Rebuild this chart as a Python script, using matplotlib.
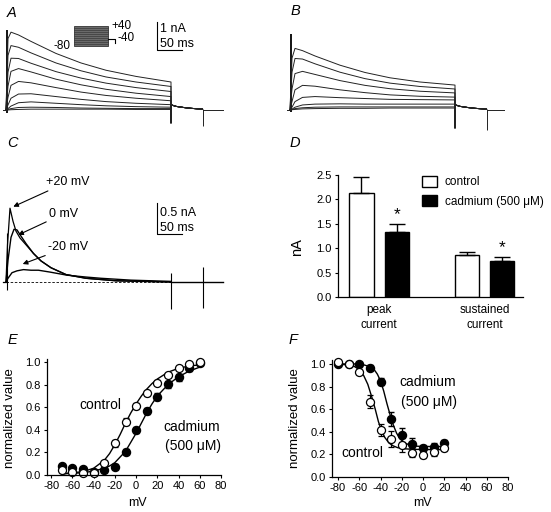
import matplotlib
matplotlib.use('Agg')
import matplotlib.pyplot as plt
from matplotlib.patches import Rectangle, Patch
from matplotlib.ticker import FormatStrFormatter
import numpy as np

plt.rcParams['font.family'] = ['Liberation Sans', 'DejaVu Sans']
plt.rcParams['axes.unicode_minus'] = False

W, H = 551, 512

# ---- A / B: current families (time in ms, current in nA) ----
step_t = [0, 4, 10, 25, 50, 100, 150, 200, 260, 330]
traces_a = [
    [0, 2.55, 2.78, 2.68, 2.45, 2.02, 1.68, 1.42, 1.20, 1.00],
    [0, 1.95, 2.30, 2.24, 2.04, 1.68, 1.40, 1.18, 1.00, 0.84],
    [0, 1.35, 1.85, 1.84, 1.67, 1.37, 1.14, 0.96, 0.80, 0.66],
    [0, 0.85, 1.38, 1.48, 1.36, 1.10, 0.90, 0.74, 0.60, 0.48],
    [0, 0.45, 0.88, 1.02, 0.97, 0.80, 0.64, 0.52, 0.42, 0.33],
    [0, 0.18, 0.42, 0.57, 0.58, 0.48, 0.38, 0.30, 0.24, 0.19],
    [0, 0.05, 0.14, 0.26, 0.29, 0.24, 0.19, 0.15, 0.12, 0.10],
    [0, 0.02, 0.05, 0.09, 0.10, 0.09, 0.07, 0.06, 0.05, 0.05],
    [0, 0.00, 0.01, 0.02, 0.03, 0.03, 0.03, 0.03, 0.02, 0.02],
]
traces_b = [
    [0, 1.85, 2.20, 2.12, 1.93, 1.60, 1.34, 1.15, 1.00, 0.89],
    [0, 1.35, 1.84, 1.82, 1.65, 1.35, 1.12, 0.96, 0.84, 0.75],
    [0, 0.75, 1.30, 1.38, 1.27, 1.05, 0.88, 0.76, 0.67, 0.61],
    [0, 0.30, 0.72, 0.88, 0.85, 0.72, 0.62, 0.54, 0.49, 0.46],
    [0, 0.10, 0.30, 0.45, 0.48, 0.44, 0.41, 0.38, 0.37, 0.36],
    [0, 0.03, 0.10, 0.18, 0.21, 0.22, 0.21, 0.21, 0.21, 0.21],
    [0, 0.02, 0.05, 0.08, 0.10, 0.11, 0.11, 0.11, 0.11, 0.11],
    [0, 0.01, 0.02, 0.04, 0.05, 0.06, 0.06, 0.07, 0.07, 0.07],
]
tail_t = [331, 340, 355, 370, 385, 393]
tail_i = [0.18, 0.13, 0.09, 0.06, 0.04, 0.03]
spikes_a = {'on': (2.85, -0.10), 'off': -0.46, 'tail': -0.57}
spikes_b = {'on': (2.70, -0.08), 'off': -0.64, 'tail': -0.71}

# ---- C: cadmium-sensitive current ----
c_p20_t = [0, 3, 8, 14, 20, 28, 40, 55, 70, 90, 120, 160, 220, 330]
c_p20_i = [0, 0.60, 1.19, 0.98, 0.82, 0.71, 0.60, 0.46, 0.34, 0.23, 0.12, 0.06, 0.02, 0.0]
c_0_t = [0, 4, 10, 16, 22, 30, 40, 55, 70, 90, 120, 160, 220, 330]
c_0_i = [0, 0.35, 0.72, 0.85, 0.84, 0.74, 0.62, 0.46, 0.34, 0.23, 0.12, 0.06, 0.02, 0.0]
c_m20_t = [0, 4, 12, 22, 35, 50, 65, 88, 122, 160, 190, 250, 330]
c_m20_i = [0, 0.06, 0.15, 0.18, 0.20, 0.19, 0.19, 0.16, 0.11, 0.08, 0.06, 0.03, 0.01]

# ---- D: bar chart ----
groups = ['peak\ncurrent', 'sustained\ncurrent']
ctrl_mean = [2.13, 0.865]
ctrl_err = [0.33, 0.065]
cd_mean = [1.34, 0.73]
cd_err = [0.16, 0.09]

# ---- E: activation ----
volt_e = [-70, -60, -50, -40, -30, -20, -10, 0, 10, 20, 30, 40, 50, 60]
act_ctrl = [0.044, 0.024, 0.015, 0.021, 0.103, 0.28, 0.472, 0.611, 0.723, 0.817, 0.885, 0.944, 0.982, 0.997]
act_ctrl_err = [0.01, 0.01, 0.01, 0.01, 0.02, 0.03, 0.03, 0.03, 0.02, 0.02, 0.02, 0.01, 0.01, 0.01]
act_cd = [0.080, 0.059, 0.050, 0.03, 0.044, 0.074, 0.206, 0.398, 0.566, 0.693, 0.802, 0.864, 0.944, 0.99]
act_cd_err = [0.01, 0.01, 0.01, 0.01, 0.01, 0.02, 0.02, 0.03, 0.03, 0.03, 0.03, 0.03, 0.02, 0.01]
fit_e_v = [-70, -60, -50, -40, -30, -25, -20, -15, -10, -5, 0, 5, 10, 15, 20, 30, 40, 50, 60]
fit_e_ctrl = [0.01, 0.02, 0.03, 0.06, 0.13, 0.19, 0.27, 0.36, 0.46, 0.55, 0.63, 0.70, 0.76, 0.81, 0.85, 0.91, 0.945, 0.965, 0.975]
fit_e_cd = [0.01, 0.015, 0.02, 0.035, 0.06, 0.08, 0.11, 0.16, 0.21, 0.29, 0.37, 0.46, 0.55, 0.63, 0.70, 0.80, 0.87, 0.92, 0.955]

# ---- F: inactivation ----
volt_f = [-80, -70, -60, -50, -40, -30, -20, -10, 0, 10, 20]
inact_ctrl = [1.02, 1.0, 0.93, 0.666, 0.416, 0.333, 0.283, 0.215, 0.195, 0.218, 0.254]
inact_ctrl_err = [0.01, 0.01, 0.02, 0.06, 0.05, 0.07, 0.06, 0.04, 0.03, 0.03, 0.02]
inact_cd = [1.0, 1.0, 0.997, 0.967, 0.844, 0.513, 0.372, 0.292, 0.254, 0.268, 0.304]
inact_cd_err = [0.01, 0.01, 0.02, 0.02, 0.03, 0.06, 0.06, 0.05, 0.03, 0.03, 0.02]
fit_f_ctrl_v = [-80, -70, -65, -60, -56, -52, -48, -45, -42, -39, -36, -32, -28, -24, -18, -10, 0, 20]
fit_f_ctrl = [1.0, 0.99, 0.98, 0.95, 0.90, 0.82, 0.70, 0.60, 0.49, 0.41, 0.35, 0.30, 0.275, 0.26, 0.25, 0.245, 0.243, 0.242]
fit_f_cd_v = [-80, -60, -55, -50, -46, -43, -40, -37, -34, -31, -28, -25, -22, -18, -12, -5, 5, 20]
fit_f_cd = [1.0, 1.0, 0.99, 0.975, 0.95, 0.91, 0.85, 0.76, 0.65, 0.55, 0.46, 0.39, 0.34, 0.305, 0.28, 0.272, 0.27, 0.27]

fig = plt.figure(figsize=(W / 100, H / 100), dpi=100)


def px_axes(x0, y0, x1, y1):
    return fig.add_axes([x0 / W, 1 - y1 / H, (x1 - x0) / W, (y1 - y0) / H])


def ftext(x, y, s, **kw):
    fig.text(x / W, 1 - y / H, s, **kw)


TRACE = dict(color='#222222', lw=0.7)


def draw_family(ax, traces, spikes):
    ax.plot([-6, 0], [0, 0], **TRACE)
    ax.vlines(1, spikes['on'][1], spikes['on'][0], color='k', lw=1.3)
    for tr in traces:
        ax.plot(step_t + [330] + tail_t, tr + [spikes['off']] + tail_i, **TRACE)
    ax.vlines(394, spikes['tail'], tail_i[-1], **TRACE)
    ax.plot([393, 434], [0, 0], **TRACE)
    ax.axis('off')


# A
axA = px_axes(0, 15, 225, 135)
axA.set_xlim(-12, 438)
axA.set_ylim(-0.893, 3.393)
draw_family(axA, traces_a, spikes_a)
axA.plot([302, 302, 352], [3.14, 2.14, 2.14], color='k', lw=0.8)
axA.text(307, 2.89, '1 nA', fontsize=9, va='center')
axA.text(307, 2.37, '50 ms', fontsize=9, va='center')
# voltage protocol inset
axA.add_patch(Rectangle((136, 2.286), 68, 0.714, facecolor='#6a6a6a', edgecolor='#333333', lw=0.6))
for lvl in np.linspace(2.36, 2.93, 9):
    axA.plot([136, 204], [lvl, lvl], color='#3a3a3a', lw=0.5)
axA.plot([204, 218, 218], [2.536, 2.536, 2.39], color='k', lw=0.8)
axA.text(211, 3.0, '+40', fontsize=8.5, va='center')
axA.text(222, 2.57, '-40', fontsize=8.5, va='center')
axA.text(129, 2.29, '-80', fontsize=8.5, va='center', ha='right')

# B
axB = px_axes(280, 15, 505, 135)
axB.set_xlim(-20, 430)
axB.set_ylim(-0.893, 3.393)
draw_family(axB, traces_b, spikes_b)

# C
axC = px_axes(0, 195, 225, 315)
axC.set_xlim(-12, 438)
axC.set_ylim(-0.532, 1.403)
axC.plot([0, 330], [0, 0], color='k', lw=0.6, ls=(0, (3, 2)))
axC.plot([-6, 0], [0, 0], color='k', lw=0.9)
axC.vlines(1, -0.13, 0.79, color='k', lw=0.8)
axC.plot(c_m20_t, c_m20_i, color='k', lw=1.0)
axC.plot(c_0_t, c_0_i, color='k', lw=1.0)
axC.plot(c_p20_t, c_p20_i, color='k', lw=0.9)
axC.plot([330, 434], [0, 0], color='k', lw=1.0)
axC.vlines(330, -0.44, 0.15, color='k', lw=0.8)
axC.vlines(394, -0.42, 0.24, color='k', lw=0.8)
axC.plot([302, 302, 352], [1.27, 0.77, 0.77], color='k', lw=0.8)
axC.text(307, 1.11, '0.5 nA', fontsize=9, va='center')
axC.text(307, 0.87, '50 ms', fontsize=9, va='center')
arrow = dict(arrowstyle='-|>', color='k', lw=0.8, mutation_scale=7, shrinkA=0, shrinkB=0)
axC.annotate('+20 mV', xy=(14.6, 1.215), xytext=(79, 1.61), fontsize=9, va='center', ha='left', arrowprops=arrow)
axC.annotate('0 mV', xy=(24.6, 0.76), xytext=(86, 1.10), fontsize=9, va='center', ha='left', arrowprops=arrow)
axC.annotate('-20 mV', xy=(33.4, 0.29), xytext=(84, 0.565), fontsize=9, va='center', ha='left', arrowprops=arrow)
axC.axis('off')


def style_axes(ax):
    for s in ('top', 'right'):
        ax.spines[s].set_visible(False)
    for s in ('left', 'bottom'):
        ax.spines[s].set_linewidth(0.9)
    ax.tick_params(direction='out', length=2.5, width=0.8, labelsize=8, pad=2)
    ax.yaxis.set_major_formatter(FormatStrFormatter('%.1f'))


# D
axD = px_axes(338, 175, 523, 297)
xs = np.arange(len(groups))
off, bw = 0.168, 0.232
axD.bar(xs - off, ctrl_mean, bw, color='white', edgecolor='k', lw=1.0)
axD.bar(xs + off, cd_mean, bw, color='black', edgecolor='k', lw=1.0)
axD.errorbar(xs - off, ctrl_mean, yerr=[np.zeros(2), ctrl_err], fmt='none', ecolor='k', elinewidth=1.0, capsize=6, capthick=1.0)
axD.errorbar(xs + off, cd_mean, yerr=[np.zeros(2), cd_err], fmt='none', ecolor='k', elinewidth=1.0, capsize=6, capthick=1.0)
for x, m, e in zip(xs + off, cd_mean, cd_err):
    axD.text(x, m + e + 0.03, '*', ha='center', va='bottom', fontsize=12.5)
axD.set_xlim(-0.389, 1.365)
axD.set_ylim(0, 2.5)
axD.set_yticks(np.arange(0, 2.51, 0.5))
axD.set_xticks(xs)
axD.set_xticklabels(groups, linespacing=1.35)
style_axes(axD)
axD.tick_params(axis='x', length=0, pad=5, labelsize=8.5)
axD.legend(handles=[Patch(facecolor='white', edgecolor='k', lw=1.0),
                    Patch(facecolor='black', edgecolor='k', lw=1.0)],
           labels=['control', 'cadmium (500 μM)'], frameon=False, fontsize=8.5,
           loc='upper left', bbox_to_anchor=(0.41, 1.06), handlelength=1.3,
           handleheight=1.0, handletextpad=0.6, labelspacing=0.6, borderpad=0.2)
ftext(297, 247, 'nA', fontsize=10.5, rotation=90, ha='center', va='center')

# E
axE = px_axes(47, 359, 221, 475)
axE.plot(fit_e_v, fit_e_ctrl, color='k', lw=1.0)
axE.plot(fit_e_v, fit_e_cd, color='k', lw=1.0)
axE.errorbar(volt_e, act_cd, yerr=act_cd_err, fmt='o', color='k', mfc='k', mec='k', ms=5.8, elinewidth=0.9, capsize=2, clip_on=False)
axE.errorbar(volt_e, act_ctrl, yerr=act_ctrl_err, fmt='o', color='k', mfc='white', mec='k', mew=0.9, ms=5.8, elinewidth=0.9, capsize=2, clip_on=False)
axE.set_xlim(-84, 80)
axE.set_ylim(0, 1.027)
axE.set_xticks(np.arange(-80, 81, 20))
axE.set_yticks(np.arange(0, 1.01, 0.2))
style_axes(axE)
ftext(100, 405, 'control', fontsize=10, ha='center', va='center')
ftext(192, 427, 'cadmium', fontsize=10, ha='center', va='center')
ftext(193, 446, '(500 μM)', fontsize=10, ha='center', va='center')
ftext(10, 418, 'normalized value', fontsize=9.5, rotation=90, ha='center', va='center')
ftext(137, 503, 'mV', fontsize=9, ha='center', va='center')

# F
axF = px_axes(332, 360, 508, 477)
axF.plot(fit_f_ctrl_v, fit_f_ctrl, color='k', lw=1.0)
axF.plot(fit_f_cd_v, fit_f_cd, color='k', lw=1.0)
axF.errorbar(volt_f, inact_cd, yerr=inact_cd_err, fmt='o', color='k', mfc='k', mec='k', ms=5.8, elinewidth=0.9, capsize=2, clip_on=False)
axF.errorbar(volt_f, inact_ctrl, yerr=inact_ctrl_err, fmt='o', color='k', mfc='white', mec='k', mew=0.9, ms=5.8, elinewidth=0.9, capsize=2, clip_on=False)
axF.set_xlim(-85.7, 80)
axF.set_ylim(0, 1.035)
axF.set_xticks(np.arange(-80, 81, 20))
axF.set_yticks(np.arange(0, 1.01, 0.2))
style_axes(axF)
ftext(428, 382, 'cadmium', fontsize=10, ha='center', va='center')
ftext(429, 402, '(500 μM)', fontsize=10, ha='center', va='center')
ftext(362, 453, 'control', fontsize=10, ha='center', va='center')
ftext(295, 418, 'normalized value', fontsize=9.5, rotation=90, ha='center', va='center')
ftext(422, 503, 'mV', fontsize=9, ha='center', va='center')

# panel letters
for letter, (x, y) in zip('ABCDEF', [(12, 13), (295, 11), (12, 143), (295, 143), (12, 340), (293, 340)]):
    ftext(x, y, letter, fontsize=10.5, style='italic', ha='center', va='center')

fig.savefig('out.png', dpi=100)
